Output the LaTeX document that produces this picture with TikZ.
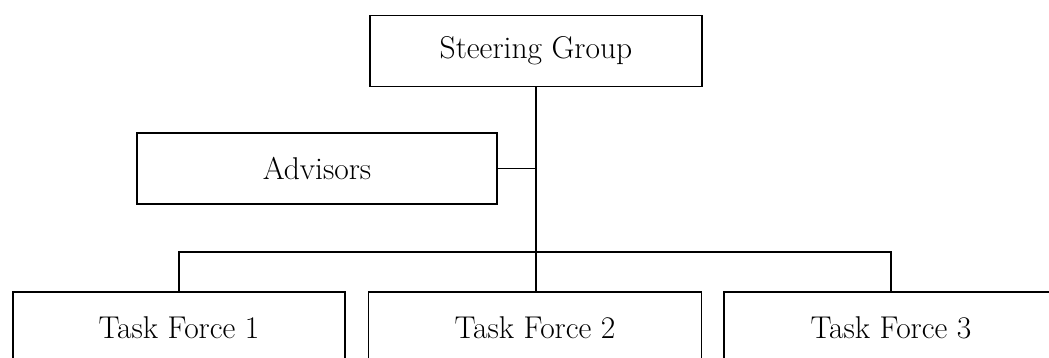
\documentclass[tikz,border=0pt]{standalone}
\usepackage{fontspec}
\begin{document}
\begin{tikzpicture}[x=1pt,y=-1pt,
  box/.style={draw, line width=1.6pt, inner sep=0pt, minimum height=71pt,
    font=\fontsize{31.5}{36}\selectfont},
  conn/.style={draw, line width=1.6pt}]
\useasboundingbox (0,0) rectangle (1049,358);
\clip (0,0) rectangle (1049,358);
\node[box, minimum width=332pt] (steer) at (536,51) {Steering Group};
\node[box, minimum width=360pt] (adv) at (317,168.5) {Advisors};
\node[box, minimum width=332pt] (tf1) at (179,327.5) {Task Force 1};
\node[box, minimum width=333pt] (tf2) at (535,327.5) {Task Force 2};
\node[box, minimum width=334pt] (tf3) at (891,327.5) {Task Force 3};
\coordinate (bus) at (535,252);
\draw[conn] (steer.south) -- (steer.south |- tf2.north);
\draw[conn] (adv.east) -- (adv.east -| steer.south);
\draw[conn] (tf1.north) |- (bus) -| (tf3.north);
\end{tikzpicture}
\end{document}
